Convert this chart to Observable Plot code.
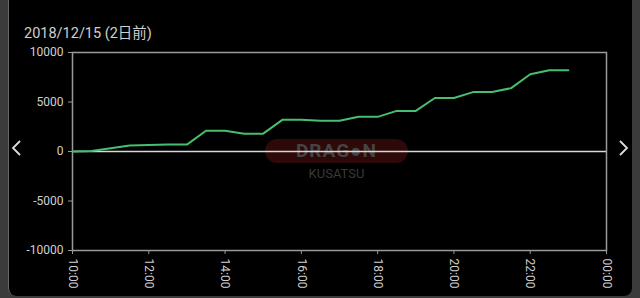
<!DOCTYPE html>
<html>
<head>
<meta charset="utf-8">
<script src="https://cdn.jsdelivr.net/npm/d3@7"></script>
<script src="https://cdn.jsdelivr.net/npm/@observablehq/plot@0.6"></script>
<style>
  html, body { margin: 0; padding: 0; background: #3b3b3b; width: 640px; height: 298px; overflow: hidden; }
  #panel { position: absolute; left: 8px; top: -10px; width: 623px; height: 306px; background: #000; border-radius: 8px; border-left: 1px solid #666; }
  #title { position: absolute; left: 24px; top: 21px; color: #cfcfcf; font: 14.5px "Roboto", "Noto Sans CJK JP", sans-serif; }
  #chart { position: absolute; left: 0; top: 0; }
  #wm { position: absolute; left: 265px; top: 139px; width: 143px; height: 24px; border-radius: 12px; background: #2e0909; }
  #wm1 { position: absolute; left: 265px; top: 139px; width: 143px; height: 24px; line-height: 24px; text-align: center; color: #444; font: bold 19px "Roboto", sans-serif; letter-spacing: 1px; }
  #wm2 { position: absolute; left: 265px; top: 166px; width: 143px; text-align: center; color: #3a3a3a; font: 13px "Roboto", sans-serif; }
  .arrow { position: absolute; top: 139px; }
</style>
</head>
<body>
<div id="panel"></div>
<div id="wm"></div>
<div id="wm1">DRAG●N</div>
<div id="wm2">KUSATSU</div>
<div id="title">2018/12/15 (2日前)</div>
<svg class="arrow" style="left:11px" width="12" height="18"><polyline points="9,2 2,9 9,16" fill="none" stroke="#ddd" stroke-width="1.8"/></svg>
<svg class="arrow" style="left:617px" width="12" height="18"><polyline points="3,2 10,9 3,16" fill="none" stroke="#ddd" stroke-width="1.8"/></svg>
<div id="chart"></div>
<script>
const times = ["10:00","10:30","11:30","12:30","13:00","13:30","14:00","14:30","15:00","15:30","16:00","16:30","17:00","17:30","18:00","18:30","19:00","19:30","20:00","20:30","21:00","21:30","22:00","22:30","23:00"];
const values = [0,50,600,700,700,2100,2100,1800,1800,3200,3200,3100,3100,3500,3500,4100,4100,5400,5400,6000,6000,6400,7800,8200,8200];
const xTickLabels = ["10:00","12:00","14:00","16:00","18:00","20:00","22:00","00:00"];
const yTicks = [-10000,-5000,0,5000,10000];

const toHours = s => { const [h, m] = s.split(":").map(Number); return h + m / 60; };
const xTicks = xTickLabels.map((s, i) => i === xTickLabels.length - 1 ? 24 : toHours(s));
const data = times.map((t, i) => ({x: toHours(t), y: values[i]}));

const chart = Plot.plot({
  width: 640,
  height: 298,
  marginLeft: 72,
  marginRight: 34,
  marginTop: 52,
  marginBottom: 48,
  style: {background: "transparent", color: "#d0d0d0", fontSize: "12px", fontFamily: "Roboto, sans-serif"},
  x: {type: "linear", domain: [10, 24], label: null},
  y: {domain: [-10000, 10000], label: null},
  marks: [
    Plot.axisY({ticks: yTicks, tickFormat: d => String(d), tickSize: 4, tickPadding: 5, stroke: "#999", fontSize: 12, label: null}),
    Plot.axisX({ticks: xTicks, tickFormat: (d, i) => xTickLabels[i], tickSize: 4, tickPadding: 4, tickRotate: 90, stroke: "#999", fontSize: 12, label: null}),
    Plot.ruleY([0], {stroke: "#d8d8d8", strokeWidth: 1.5}),
    Plot.frame({stroke: "#9a9a9a", strokeWidth: 1.5}),
    Plot.line(data, {x: "x", y: "y", stroke: "#46bf6e", strokeWidth: 2})
  ]
});
document.getElementById("chart").appendChild(chart);
</script>
</body>
</html>
